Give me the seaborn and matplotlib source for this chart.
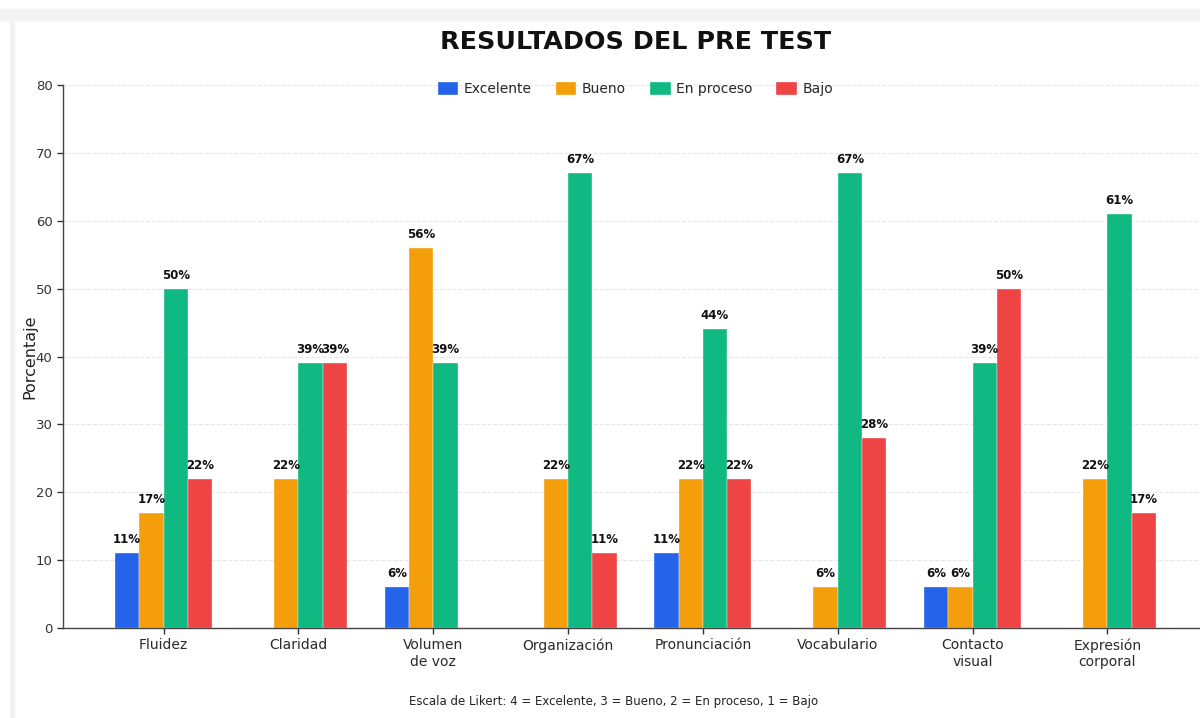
import matplotlib
matplotlib.use("Agg")
import matplotlib.pyplot as plt
import matplotlib.patches as mpatches
import seaborn as sns
import pandas as pd

# datos del pre test (porcentajes)
criterios = ["Fluidez", "Claridad", "Volumen\nde voz", "Organización", "Pronunciación",
             "Vocabulario", "Contacto\nvisual", "Expresión\ncorporal"]
niveles = ["Excelente", "Bueno", "En proceso", "Bajo"]
excelente = [11, 0, 6, 0, 11, 0, 6, 0]
bueno = [17, 22, 56, 22, 22, 6, 6, 22]
en_proceso = [50, 39, 39, 67, 44, 67, 39, 61]
bajo = [22, 39, 0, 11, 22, 28, 50, 17]
colores = ["#2563EB", "#F59E0B", "#10B981", "#EF4444"]

rows = []
for nivel, vals in zip(niveles, [excelente, bueno, en_proceso, bajo]):
    for c, v in zip(criterios, vals):
        rows.append({"Criterio": c, "Nivel": nivel, "Porcentaje": v})
df = pd.DataFrame(rows)

sns.set_theme(style="white")
plt.rcParams['font.family'] = ['DejaVu Sans']

fig = plt.figure(figsize=(12, 7.18), dpi=100)
# marco gris de la captura
fig.patches.append(mpatches.Rectangle((0, 1 - 20 / 718), 1, 11 / 718, transform=fig.transFigure,
                                      color="#f2f2f2", zorder=-1))
fig.patches.append(mpatches.Rectangle((10 / 1200, 0), 4 / 1200, 1 - 9 / 718, transform=fig.transFigure,
                                      color="#f2f2f2", zorder=-1))

ax = fig.add_axes([63 / 1200, 90 / 718, 1145 / 1200, 543 / 718])
sns.barplot(data=df, x="Criterio", y="Porcentaje", hue="Nivel", palette=colores,
            width=0.72, gap=0, edgecolor="white", linewidth=0.25, saturation=1, ax=ax)

for cont in ax.containers:
    labels = [f"{b.get_height():.0f}%" if b.get_height() > 0 else "" for b in cont]
    ax.bar_label(cont, labels=labels, padding=5, fontsize=8.5, fontweight="bold", color="#111111")

ax.set_xlim(-0.746, 7.746)
ax.set_ylim(0, 80)
ax.set_yticks(range(0, 81, 10))
ax.set_xlabel("")
ax.set_ylabel("Porcentaje", fontsize=11.5, color="#222222", labelpad=-1)
ax.yaxis.grid(True, linestyle="--", color="#e6e6e6", linewidth=0.8)
ax.set_axisbelow(True)
for s in ["top", "right"]:
    ax.spines[s].set_visible(False)
for s in ["left", "bottom"]:
    ax.spines[s].set_color("#444444")
    ax.spines[s].set_linewidth(1.0)
ax.tick_params(axis="both", labelsize=9.5, colors="#333333", length=4, width=1, left=True, bottom=True)
ax.tick_params(axis="x", labelsize=10, labelcolor="#2a2a2a")

ax.legend(loc="upper center", bbox_to_anchor=(0.5, 1.028), ncol=4, frameon=False,
          fontsize=10, handlelength=1.5, handleheight=1.0, handletextpad=0.4, columnspacing=1.7)

fig.text(636 / 1200, 1 - 42 / 718, "RESULTADOS DEL PRE TEST", ha="center", va="center",
         fontsize=18.3, fontweight="bold", color="#111111")
fig.text(614 / 1200, 1 - 702 / 718, "Escala de Likert: 4 = Excelente, 3 = Bueno, 2 = En proceso, 1 = Bajo",
         ha="center", va="center", fontsize=8.5, color="#222222")

fig.savefig("out.png", dpi=100)
